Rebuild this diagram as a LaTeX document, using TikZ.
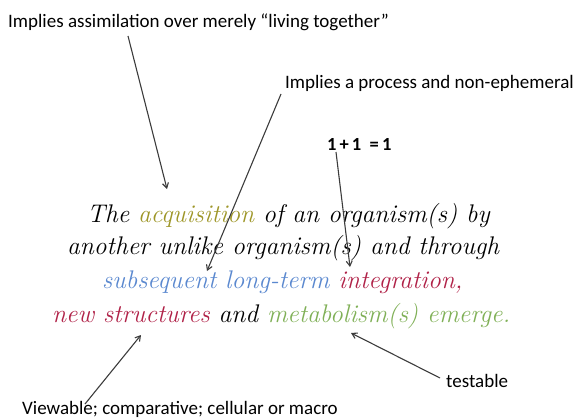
\documentclass[tikz,border=0pt]{standalone}
\usepackage{fontspec}
\usepackage{xcolor}
\usetikzlibrary{arrows.meta}
\newfontfamily\labfont{Carlito}
\definecolor{acqcol}{RGB}{158,150,40}
\definecolor{bluecol}{RGB}{90,136,207}
\definecolor{redcol}{RGB}{176,34,72}
\definecolor{greencol}{RGB}{128,176,87}
\definecolor{arrcol}{RGB}{60,60,60}
\begin{document}
\begin{tikzpicture}[x=1pt,y=1pt,
  lab/.style={font=\labfont\fontsize{19}{22}\selectfont, inner sep=0pt, anchor=base west, text=black},
  mainline/.style={font=\fontsize{25.5}{30}\selectfont\itshape, inner sep=0pt, anchor=base west},
  pointer/.style={draw=arrcol, line width=1.1pt, -{Straight Barb[length=5pt,width=6pt]}}]
\useasboundingbox (0,0) rectangle (576,-420);
% labels
\node[lab] (assim) at (8,-27.5) {Implies assimilation over merely “living together”};
\node[lab] (proc) at (285,-88.5) {Implies a process and non-ephemeral};
\node[lab, font=\labfont\bfseries\fontsize{18.5}{22}\selectfont] (sum) at (327,-150) {1\,+\,1\ \ =\,1};
\node[lab] (test) at (446,-387) {testable};
\node[lab] (view) at (22,-414.5) {Viewable; comparative; cellular or macro};
% main text
\node[mainline] (l1) at (87,-222) {The \textcolor{acqcol}{acquisition} of an organism(s) by};
\node[mainline] (l2) at (67,-254) {another unlike organism(s) and through};
\node[mainline] (l3) at (102,-288) {\textcolor{bluecol}{subsequent long-term} \textcolor{redcol}{integration,}};
\node[mainline] (l4) at (52,-322) {\textcolor{redcol}{new structures} and \textcolor{greencol}{metabolism(s) emerge.}};
% arrow end points
\coordinate (a1s) at (128,-36);  \coordinate (a1e) at (167,-189);
\coordinate (a2s) at (281,-94);  \coordinate (a2e) at (207,-271);
\coordinate (a3s) at (336,-152); \coordinate (a3e) at (350,-267);
\coordinate (a4s) at (85,-404);  \coordinate (a4e) at (141,-335);
\coordinate (a5s) at (440,-378); \coordinate (a5e) at (351,-333);
\draw[pointer] (a1s) -- (a1e);
\draw[pointer] (a2s) -- (a2e);
\draw[pointer] (a3s) -- (a3e);
\draw[pointer] (a4s) -- (a4e);
\draw[pointer] (a5s) -- (a5e);
\end{tikzpicture}
\end{document}
